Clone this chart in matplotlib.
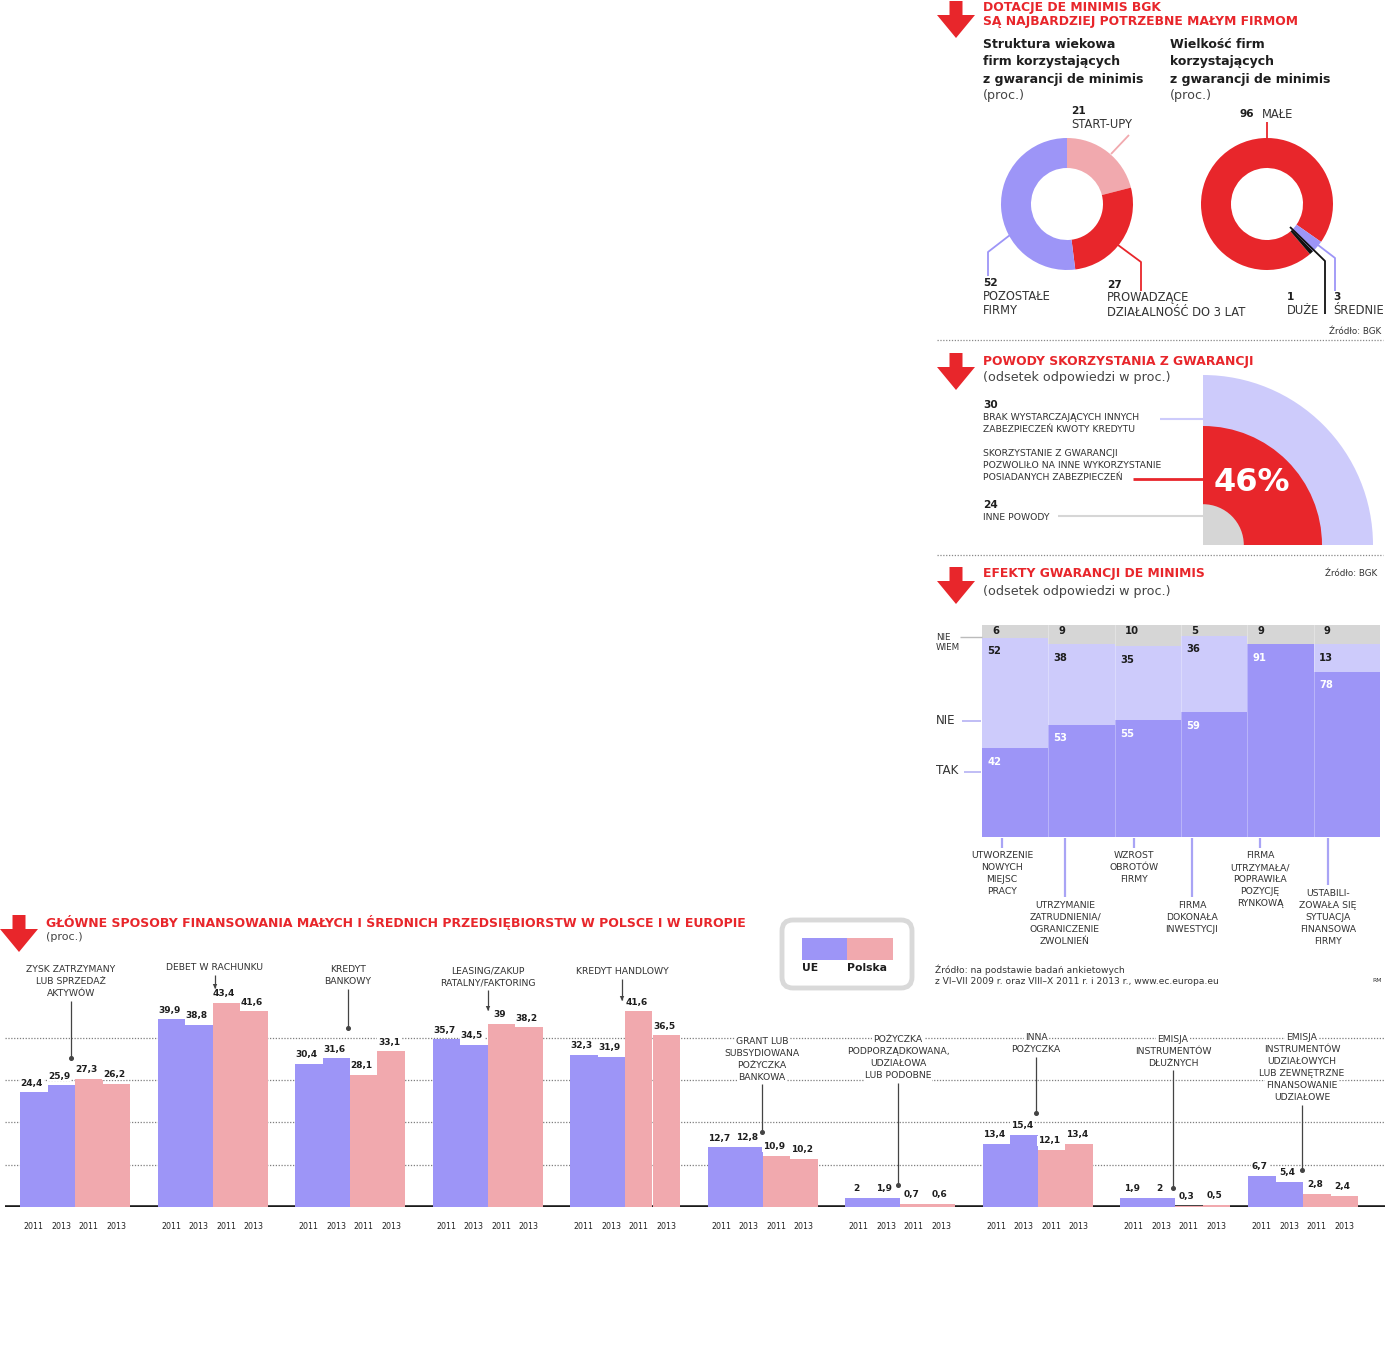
import matplotlib
matplotlib.use('Agg')
import matplotlib.pyplot as plt
from matplotlib.patches import Polygon, Wedge, FancyBboxPatch, Rectangle
import numpy as np

plt.rcParams['font.family'] = ['DejaVu Sans']

# ---------------- DATA ----------------
age_labels = ['START-UPY', 'PROWADZĄCE\nDZIAŁALNOŚĆ DO 3 LAT', 'POZOSTAŁE\nFIRMY']
age_values = [21, 27, 52]

size_labels = ['MAŁE', 'ŚREDNIE', 'DUŻE']
size_values = [96, 3, 1]

reason_labels = ['INNE POWODY',
                 'SKORZYSTANIE Z GWARANCJI\nPOZWOLIŁO NA INNE WYKORZYSTANIE\nPOSIADANYCH ZABEZPIECZEŃ',
                 'BRAK WYSTARCZAJĄCYCH INNYCH\nZABEZPIECZEŃ KWOTY KREDYTU']
reason_values = [24, 46, 30]

effect_labels = ['UTWORZENIE\nNOWYCH\nMIEJSC\nPRACY',
                 'UTRZYMANIE\nZATRUDNIENIA/\nOGRANICZENIE\nZWOLNIEŃ',
                 'WZROST\nOBROTÓW\nFIRMY',
                 'FIRMA\nDOKONAŁA\nINWESTYCJI',
                 'FIRMA\nUTRZYMAŁA/\nPOPRAWIŁA\nPOZYCJĘ\nRYNKOWĄ',
                 'USTABILI-\nZOWAŁA SIĘ\nSYTUACJA\nFINANSOWA\nFIRMY']
effect_tak = [42, 53, 55, 59, 91, 78]
effect_nie = [52, 38, 35, 36, 0, 13]
effect_niewiem = [6, 9, 10, 5, 9, 9]

fin_categories = ['ZYSK ZATRZYMANY\nLUB SPRZEDAŻ\nAKTYWÓW',
                  'DEBET W RACHUNKU',
                  'KREDYT\nBANKOWY',
                  'LEASING/ZAKUP\nRATALNY/FAKTORING',
                  'KREDYT HANDLOWY',
                  'GRANT LUB\nSUBSYDIOWANA\nPOŻYCZKA\nBANKOWA',
                  'POŻYCZKA\nPODPORZĄDKOWANA,\nUDZIAŁOWA\nLUB PODOBNE',
                  'INNA\nPOŻYCZKA',
                  'EMISJA\nINSTRUMENTÓW\nDŁUŻNYCH',
                  'EMISJA\nINSTRUMENTÓW\nUDZIAŁOWYCH\nLUB ZEWNĘTRZNE\nFINANSOWANIE\nUDZIAŁOWE']
ue_2011 = [24.4, 39.9, 30.4, 35.7, 32.3, 12.7, 2, 13.4, 1.9, 6.7]
ue_2013 = [25.9, 38.8, 31.6, 34.5, 31.9, 12.8, 1.9, 15.4, 2, 5.4]
pl_2011 = [27.3, 43.4, 28.1, 39, 41.6, 10.9, 0.7, 12.1, 0.3, 2.8]
pl_2013 = [26.2, 41.6, 33.1, 38.2, 36.5, 10.2, 0.6, 13.4, 0.5, 2.4]
years = ['2011', '2013']
legend_labels = ['UE', 'Polska']

# ---------------- STYLE ----------------
W, H = 1400, 1356
RED = '#e8262b'
LAV = '#9d95f7'
LAV_L = '#cdcbfb'
PINK = '#f1a9ae'
GREY = '#d6d6d6'
TXT = '#1e1e1e'
LBL = '#333333'

TS = 8.9    # red title size
SB = 9.0    # bold subtitle size
SN = 9.2    # normal subtitle
SL = 6.7    # small caps label size
DL = 8.3    # donut labels
NB = 7.6    # bold numbers

fig = plt.figure(figsize=(W / 100, H / 100), dpi=100)


def box(x0, y0, x1, y1):
    return [x0 / W, 1 - y1 / H, (x1 - x0) / W, (y1 - y0) / H]


def fmt(v):
    return ('%g' % v).replace('.', ',')


# ---------------- DONUT 1 ----------------
ax_d1 = fig.add_axes(box(1001, 138, 1133, 270))
ax_d1.pie(age_values, colors=[PINK, RED, LAV], startangle=90, counterclock=False,
          radius=1, wedgeprops=dict(width=30 / 66, edgecolor='none'))
ax_d1.set_xlim(-1, 1); ax_d1.set_ylim(-1, 1); ax_d1.set_aspect('equal'); ax_d1.axis('off')

# ---------------- DONUT 2 ----------------
ax_d2 = fig.add_axes(box(1201, 138, 1333, 270))
ax_d2.pie(size_values, colors=[RED, LAV, '#111111'], startangle=-49.4, counterclock=False,
          radius=1, wedgeprops=dict(width=30 / 66, edgecolor='none'))
ax_d2.set_xlim(-1, 1); ax_d2.set_ylim(-1, 1); ax_d2.set_aspect('equal'); ax_d2.axis('off')

# ---------------- QUARTER CIRCLE ----------------
ax_q = fig.add_axes(box(1203, 375, 1373, 545))
cum = np.cumsum(reason_values)
qcolors = [GREY, RED, LAV_L]
for r, c in sorted(zip(cum, qcolors), key=lambda t: -t[0]):
    ax_q.add_patch(Wedge((0, 0), r, 0, 90, facecolor=c, edgecolor='none'))
ax_q.set_xlim(0, 100); ax_q.set_ylim(0, 100); ax_q.axis('off')
rmid = (cum[0] + cum[1]) / 2
ang = np.deg2rad(52)
ax_q.text(rmid * np.cos(ang), rmid * np.sin(ang), '%d%%' % reason_values[1], color='white',
          fontsize=23, fontweight='bold', ha='center', va='center')

# ---------------- STACKED EFFECTS ----------------
ax_s = fig.add_axes(box(982, 625, 1380, 837))
xs = np.arange(len(effect_tak))
tak = np.array(effect_tak); nie = np.array(effect_nie); nw = np.array(effect_niewiem)
ax_s.bar(xs, tak, width=1, align='edge', color=LAV, linewidth=0)
ax_s.bar(xs, nie, bottom=tak, width=1, align='edge', color=LAV_L, linewidth=0)
ax_s.bar(xs, nw, bottom=tak + nie, width=1, align='edge', color=GREY, linewidth=0)
for i in range(1, len(xs)):
    ax_s.axvline(i, color='white', lw=0.6, alpha=0.35)
for i in xs:
    ax_s.text(i + 0.15, 100 - 2.8, fmt(nw[i]), fontsize=7.2, fontweight='bold', color=TXT,
              ha='left', va='center')
    if nie[i] > 0:
        ax_s.text(i + 0.08, tak[i] + nie[i] - 6.5, fmt(nie[i]), fontsize=7.2, fontweight='bold',
                  color=TXT, ha='left', va='center')
    ax_s.text(i + 0.08, tak[i] - 6.5, fmt(tak[i]), fontsize=7.2, fontweight='bold',
              color='white', ha='left', va='center')
ax_s.set_xlim(0, len(xs)); ax_s.set_ylim(0, 100); ax_s.axis('off')

# ---------------- BAR CHART ----------------
ax_b = fig.add_axes(box(5, 972, 1385, 1207))
pitch = 137.5
bw = 27.5 / pitch
ng = len(ue_2011)
gpos = np.arange(ng, dtype=float)
gpos[-1] -= 9.5 / pitch
series = [ue_2011, ue_2013, pl_2011, pl_2013]
scol = [LAV, LAV, PINK, PINK]
for yv in [9, 18, 27, 36]:
    ax_b.axhline(yv, color='#7e7e7e', lw=0.9, ls=(0, (1, 1.3)), zorder=0)
ax_b.axhline(0, color='#1a1a1a', lw=2.6, zorder=1)
tick_x, tick_l = [], []
for k, (vals, c) in enumerate(zip(series, scol)):
    xk = gpos + (k - 1.5) * bw
    ax_b.bar(xk, vals, width=bw, color=c, linewidth=0, zorder=2)
    for xv, v in zip(xk, vals):
        ax_b.text(xv - 0.015, v + 1.0, fmt(v), fontsize=6.5, fontweight='bold', color=TXT,
                  ha='center', va='bottom', zorder=4,
                  bbox=dict(facecolor='white', edgecolor='none', pad=0.6))
    tick_x.extend(xk)
    tick_l.extend([years[k % 2]] * ng)
ax_b.set_xticks(tick_x)
ax_b.set_xticklabels(tick_l, fontsize=5.7, color='#222222')
ax_b.tick_params(axis='x', length=0, pad=11)
ax_b.set_yticks([])
for s in ax_b.spines.values():
    s.set_visible(False)
ax_b.set_xlim(-(75 - 5) / pitch, (1385 - 75) / pitch)
ax_b.set_ylim(0, 50)
ax_b.patch.set_alpha(0)

# ---------------- OVERLAY ----------------
ov = fig.add_axes([0, 0, 1, 1])
ov.set_xlim(0, W); ov.set_ylim(H, 0); ov.axis('off')


def arrow_icon(x0, y0):
    pts = [(x0 + 12.5, y0), (x0 + 25.5, y0), (x0 + 25.5, y0 + 14), (x0 + 38, y0 + 14),
           (x0 + 19, y0 + 37), (x0, y0 + 14), (x0 + 12.5, y0 + 14)]
    ov.add_patch(Polygon(pts, closed=True, facecolor=RED, edgecolor='none'))


def txt(x, y, s, size=8, weight='normal', color=TXT, ha='left', va='center', **kw):
    ov.text(x, y, s, fontsize=size, fontweight=weight, color=color, ha=ha, va=va, **kw)


def line(pts, color, lw=1.3):
    xs_, ys_ = zip(*pts)
    ov.plot(xs_, ys_, color=color, lw=lw, solid_capstyle='butt')


# Section 1
arrow_icon(937, 1)
txt(983, 8, 'DOTACJE DE MINIMIS BGK', TS, 'bold', RED)
txt(983, 21, 'SĄ NAJBARDZIEJ POTRZEBNE MAŁYM FIRMOM', TS, 'bold', RED)
for i, s in enumerate(['Struktura wiekowa', 'firm korzystających', 'z gwarancji de minimis']):
    txt(983, 45 + 17 * i, s, SB, 'bold')
txt(983, 96, '(proc.)', SN, color='#444444')
for i, s in enumerate(['Wielkość firm', 'korzystających', 'z gwarancji de minimis']):
    txt(1170, 45 + 17 * i, s, SB, 'bold')
txt(1170, 96, '(proc.)', SN, color='#444444')

txt(1071, 111, str(age_values[0]), NB, 'bold')
txt(1071, 125, age_labels[0], DL, color=LBL)
line([(1111, 154), (1129, 135)], PINK)
txt(983, 283, str(age_values[2]), NB, 'bold')
for i, s in enumerate(age_labels[2].split('\n')):
    txt(983, 297 + 14 * i, s, DL, color=LBL)
line([(1010, 235), (988, 252), (988, 276)], LAV)
txt(1107, 285, str(age_values[1]), NB, 'bold')
for i, s in enumerate(age_labels[1].split('\n')):
    txt(1107, 298 + 14 * i, s, DL, color=LBL)
line([(1118, 245), (1141, 262), (1141, 291)], RED)

txt(1240, 114, str(size_values[0]), NB, 'bold')
txt(1262, 114, size_labels[0], DL, color=LBL)
line([(1267, 122), (1267, 140)], RED)
txt(1287, 297, str(size_values[2]), NB, 'bold')
txt(1287, 310, size_labels[2], DL, color=LBL)
txt(1333, 297, str(size_values[1]), NB, 'bold')
txt(1333, 310, size_labels[1], DL, color=LBL)
line([(1290, 227), (1325, 261), (1325, 314)], '#111111')
line([(1318, 245), (1335, 258), (1335, 291)], LAV)
txt(1381, 331, 'Źródło: BGK', 6.3, ha='right', color=LBL)
ov.plot([937, 1383], [340, 340], color='#888888', lw=0.9, ls=(0, (1, 1.3)))

# Section 2
arrow_icon(937, 353)
txt(983, 361, 'POWODY SKORZYSTANIA Z GWARANCJI', TS, 'bold', RED)
txt(983, 378, '(odsetek odpowiedzi w proc.)', SN, color='#444444')
txt(983, 405, str(reason_values[2]), NB, 'bold')
for i, s in enumerate(reason_labels[2].split('\n')):
    txt(983, 418 + 12 * i, s, SL, color=LBL)
line([(1160, 419), (1203, 419)], LAV_L, 1.5)
for i, s in enumerate(reason_labels[1].split('\n')):
    txt(983, 453 + 12 * i, s, SL, color=LBL)
line([(1133, 479), (1203, 479)], RED, 2)
txt(983, 505, str(reason_values[0]), NB, 'bold')
txt(983, 517, reason_labels[0], SL, color=LBL)
line([(1058, 516), (1203, 516)], GREY, 1.5)
ov.plot([937, 1383], [555, 555], color='#888888', lw=0.9, ls=(0, (1, 1.3)))

# Section 3
arrow_icon(937, 567)
txt(983, 574, 'EFEKTY GWARANCJI DE MINIMIS', TS, 'bold', RED)
txt(983, 591, '(odsetek odpowiedzi w proc.)', SN, color='#444444')
txt(1377, 574, 'Źródło: BGK', 6.3, ha='right', color=LBL)
txt(936, 637, 'NIE', 6.3, color=LBL)
txt(936, 648, 'WIEM', 6.3, color=LBL)
line([(960, 637), (982, 637)], '#bbbbbb', 1)
txt(936, 720, 'NIE', 8.6, color=LBL)
line([(962, 721), (981, 721)], '#b5b1f4', 1.2)
txt(936, 771, 'TAK', 8.6, color=LBL)
line([(964, 772), (981, 772)], '#b5b1f4', 1.2)
lab_x = [1002, 1065, 1134, 1192, 1260, 1328]
lab_end = [848, 897, 848, 897, 848, 885]
for lx, le, s in zip(lab_x, lab_end, effect_labels):
    line([(lx, 838), (lx, le)], '#a9a4f5', 1.6)
    for j, t in enumerate(s.split('\n')):
        txt(lx, le + 8 + 12 * j, t, SL, color=LBL, ha='center')
txt(935, 970, 'Źródło: na podstawie badań ankietowych', 6.6, color=LBL)
txt(935, 982, 'z VI–VII 2009 r. oraz VIII–X 2011 r. i 2013 r., www.ec.europa.eu', 6.6, color=LBL)
txt(1382, 980, 'RM', 4.3, ha='right', color=LBL)

# Bottom section titles and legend
arrow_icon(0, 915)
txt(46, 923, 'GŁÓWNE SPOSOBY FINANSOWANIA MAŁYCH I ŚREDNICH PRZEDSIĘBIORSTW W POLSCE I W EUROPIE',
    9.0, 'bold', RED)
txt(46, 937, '(proc.)', 8, color='#444444')
ov.add_patch(FancyBboxPatch((782, 920), 130, 68, boxstyle='round,pad=0,rounding_size=11',
                            facecolor='white', edgecolor='#d9d9d9', lw=3.5))
ov.add_patch(Rectangle((802, 938), 45, 22, facecolor=LAV, edgecolor='none'))
ov.add_patch(Rectangle((847, 938), 46, 22, facecolor=PINK, edgecolor='none'))
txt(802, 968, legend_labels[0], 7.8, 'bold')
txt(847, 968, legend_labels[1], 7.8, 'bold')

# category labels with pointers
cat_x = [71, 215, 348, 488, 622, 762, 898, 1036, 1173, 1302]
cat_y0 = [970, 968, 970, 971, 972, 1041, 1040, 1038, 1039, 1038]
cat_end = [1058, 988, 1028, 1010, 1000, 1132, 1185, 1113, 1188, 1170]
cat_arrow = [False, True, False, True, True, False, False, False, False, False]
for cx, cy, ce, ca, s in zip(cat_x, cat_y0, cat_end, cat_arrow, fin_categories):
    parts = s.split('\n')
    for j, t in enumerate(parts):
        txt(cx, cy + 12 * j, t, SL, color=LBL, ha='center',
            bbox=dict(facecolor='white', edgecolor='none', pad=0.8))
    ys = cy + 12 * (len(parts) - 1) + 7
    line([(cx, ys), (cx, ce)], '#444444', 0.9)
    if ca:
        ov.add_patch(Polygon([(cx - 2.2, ce - 4), (cx + 2.2, ce - 4), (cx, ce + 1)],
                             closed=True, facecolor='#444444', edgecolor='none'))
    else:
        ov.plot([cx], [ce], 'o', ms=2.6, color='#444444')

fig.savefig('out.png', dpi=100)
